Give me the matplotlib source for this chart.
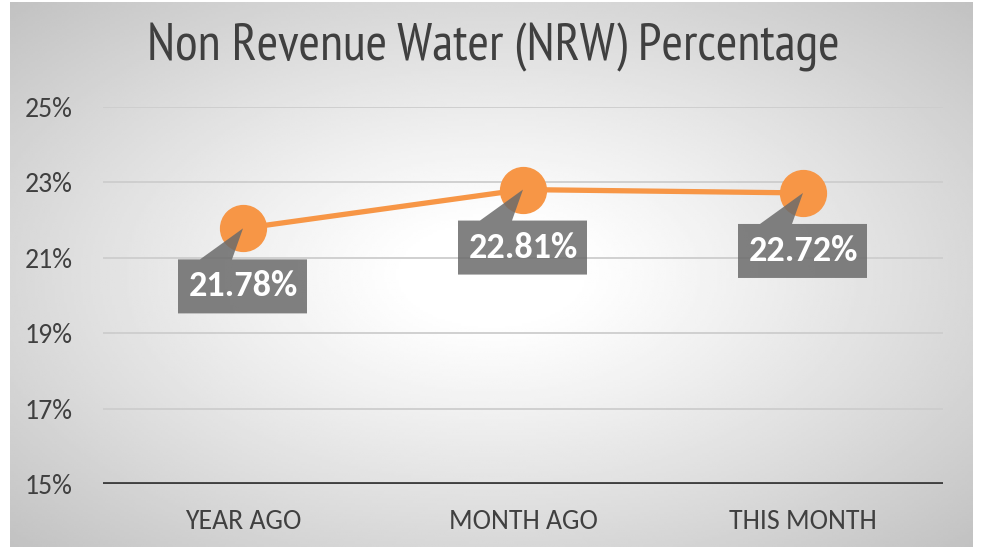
import numpy as np
import matplotlib.pyplot as plt
from matplotlib.patches import Polygon
from matplotlib.transforms import IdentityTransform

categories = ['YEAR AGO', 'MONTH AGO', 'THIS MONTH']
nrw_pct = [21.78, 22.81, 22.72]
y_ticks = [15, 17, 19, 21, 23, 25]
title = 'Non Revenue Water (NRW) Percentage'

body = ['Carlito', 'DejaVu Sans']

fig = plt.figure(figsize=(9.82, 5.55), dpi=100)
fig.patch.set_facecolor('white')

# radial gradient background
bg = fig.add_axes([10 / 982, 8 / 555, 963 / 982, 545 / 555])
gx, gy = np.meshgrid(np.linspace(-1, 1, 400), np.linspace(-1, 1, 240))
r = np.sqrt(gx ** 2 + gy ** 2) / np.sqrt(2)
shade = 1 - 0.24 * np.clip((r - 0.12) / 0.88, 0, 1) ** 1.1
bg.imshow(shade, cmap='gray', vmin=0, vmax=1, aspect='auto', extent=[0, 1, 0, 1])
bg.axis('off')

ax = fig.add_axes([103 / 982, 1 - 484 / 555, 840 / 982, 377 / 555])
ax.patch.set_alpha(0)
x = np.arange(len(categories))
ax.set_xlim(-0.5, 2.5)
ax.set_ylim(15, 25)

for t in y_ticks[1:]:
    ax.axhline(t, color='#cdcdcd', lw=1.3, zorder=1)
ax.axhline(15, color='#404040', lw=3.5, zorder=2)

ax.plot(x, nrw_pct, color='#f79646', lw=3.8, marker='o', markersize=33,
        markerfacecolor='#f79646', markeredgecolor='#f79646', zorder=3)

# callout labels: box below the point with a pointer to the marker centre
for xi, v in zip(x, nrw_pct):
    px, py = ax.transData.transform((xi, v))
    off = [(-65, -31), (-43, -31), (0, 0), (-11, -31), (64, -31), (64, -85), (-65, -85)]
    poly = Polygon([(px + dx, py + dy) for dx, dy in off], closed=True,
                   transform=IdentityTransform(), fc='#6b6b6b', ec='none', alpha=0.85,
                   zorder=4, clip_on=False)
    ax.add_patch(poly)
    ax.annotate(f'{v:.2f}%', xy=(xi, v), xytext=(0, -58), textcoords='offset pixels',
                ha='center', va='center', color='white', fontsize=26,
                fontweight='bold', family=body, zorder=5)
ax.set_xlim(-0.5, 2.5)
ax.set_ylim(15, 25)

for s in ax.spines.values():
    s.set_visible(False)
ax.set_xticks(x)
ax.set_xticklabels(categories, family=body, fontsize=20, color='#404040')
ax.set_yticks(y_ticks)
ax.set_yticklabels([f'{t}%' for t in y_ticks], family=body, fontsize=20, color='#404040')
ax.tick_params(length=0)
ax.tick_params(axis='x', pad=18)
ax.tick_params(axis='y', pad=22)

fig.text(493 / 982, 1 - 47 / 555, title, ha='center', va='center',
         family=['PT Sans Narrow', 'DejaVu Sans'], fontsize=37.5, color='#404040')

fig.savefig('out.png', dpi=100)
